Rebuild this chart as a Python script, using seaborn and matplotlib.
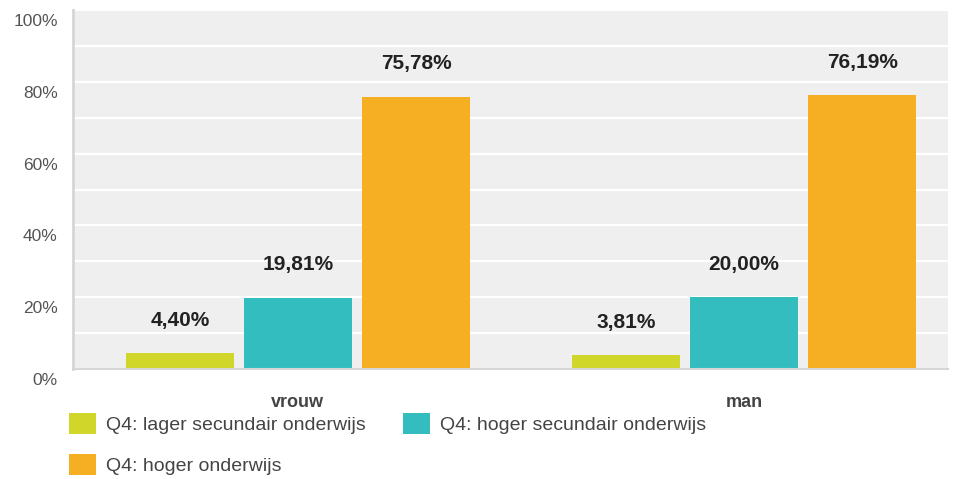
import pandas as pd
import numpy as np
import seaborn as sns
import matplotlib.pyplot as plt
import matplotlib.transforms as mtransforms

# --- DATA ---
geslacht = ['vrouw', 'man']
opleiding = ['Q4: lager secundair onderwijs', 'Q4: hoger secundair onderwijs', 'Q4: hoger onderwijs']
lager_sec = [4.40, 3.81]
hoger_sec = [19.81, 20.00]
hoger_ond = [75.78, 76.19]
kleuren = ['#d0d62a', '#33bdbf', '#f6ae22']

df = pd.DataFrame({
    'geslacht': geslacht * 3,
    'opleiding': [opleiding[0]] * 2 + [opleiding[1]] * 2 + [opleiding[2]] * 2,
    'pct': lager_sec + hoger_sec + hoger_ond,
})

sns.set_style('white')
plt.rcParams['font.family'] = ['Liberation Sans', 'DejaVu Sans']

fig = plt.figure(figsize=(9.58, 4.79), dpi=100)
ax = fig.add_axes([73 / 958, 1 - 369 / 479, 875 / 958, 359 / 479])
ax.set_facecolor('#efefef')

sns.barplot(data=df, x='geslacht', y='pct', hue='opleiding', hue_order=opleiding,
            palette=kleuren, width=0.794, gap=0.085, saturation=1, linewidth=0,
            ax=ax, legend=True)

ax.set_ylim(0, 100)
ax.set_xlim(-0.504, 1.457)
ax.set_yticks(np.arange(0, 101, 10), minor=True)
ax.set_yticks(np.arange(0, 101, 20))
ax.set_yticklabels([f'{v}%' for v in range(0, 101, 20)], fontsize=12.5, color='#555555')
ax.grid(axis='y', which='both', color='white', linewidth=1.6)
ax.set_axisbelow(True)
ax.tick_params(axis='y', which='both', length=0, pad=11)
ax.tick_params(axis='x', length=0, pad=18)
for lbl in ax.get_xticklabels():
    lbl.set_fontweight('bold')
    lbl.set_fontsize(13)
    lbl.set_color('#444444')

# y-labels staan iets onder de rasterlijn
offset = mtransforms.ScaledTranslation(0, -0.10, fig.dpi_scale_trans)
for lbl in ax.get_yticklabels():
    lbl.set_transform(lbl.get_transform() + offset)

for side in ['top', 'right']:
    ax.spines[side].set_visible(False)
ax.spines['left'].set_color('#d6d6d6')
ax.spines['left'].set_linewidth(2)
ax.spines['bottom'].set_color('#d6d6d6')
ax.spines['bottom'].set_linewidth(1.5)

ax.set_xlabel('')
ax.set_ylabel('')

for cont in ax.containers:
    labels = [f'{b.get_height():.2f}%'.replace('.', ',') for b in cont]
    ax.bar_label(cont, labels=labels, padding=17, fontsize=15, fontweight='bold', color='#222222')

# legenda rij voor rij: twee items boven, een eronder
handles, labs = ax.get_legend_handles_labels()
ax.get_legend().remove()
volgorde = [0, 2, 1]
fig.legend([handles[i] for i in volgorde], [labs[i] for i in volgorde],
           loc='upper left', bbox_to_anchor=(69 / 958, 1 - 413 / 479), ncol=2,
           frameon=False, fontsize=14, handlelength=1.4, handleheight=1.3,
           handletextpad=0.5, columnspacing=1.9, labelspacing=1.0, borderpad=0,
           borderaxespad=0, labelcolor='#444444')

plt.savefig('out.png', dpi=100)
